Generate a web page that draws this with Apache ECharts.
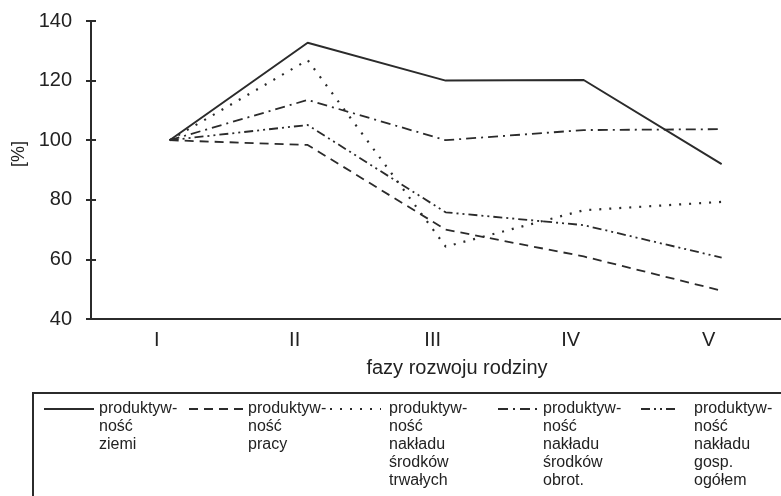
<!DOCTYPE html>
<html>
<head>
<meta charset="utf-8">
<script src="https://cdn.jsdelivr.net/npm/echarts@6/dist/echarts.min.js"></script>
<style>
    html, body {margin: 0; padding: 0; background: #fff;}
    #main {width: 781px; height: 496px;}
</style>
</head>
<body>
<div id="main"></div>
<script>
// dane
var phases = ['I', 'II', 'III', 'IV', 'V'];
var ziemi = [100, 132.7, 120, 120.2, 92];
var pracy = [100, 98.4, 70, 61, 49.5];
var trwale = [100, 126.9, 64.3, 76.5, 79.3];
var obrot = [100, 113.5, 100, 103.4, 103.7];
var ogolem = [100, 105.1, 75.8, 71.5, 60.6];
var yTicks = [40, 60, 80, 100, 120, 140];

var seriesNames = [
    'produktywność ziemi',
    'produktywność pracy',
    'produktywność nakładu środków trwałych',
    'produktywność nakładu środków obrot.',
    'produktywność nakładu gosp. ogółem'
];
var legendLines = [
    ['produktyw-', 'ność', 'ziemi'],
    ['produktyw-', 'ność', 'pracy'],
    ['produktyw-', 'ność', 'nakładu', 'środków', 'trwałych'],
    ['produktyw-', 'ność', 'nakładu', 'środków', 'obrot.'],
    ['produktyw-', 'ność', 'nakładu', 'gosp.', 'ogółem']
];

var ink = '#2b2b2b';
var font = 'Liberation Sans, Arial, sans-serif';

function toPoints(values) {
    return values.map(function (v, i) {
        return [i + 1, v];
    });
}

function line(name, values, type, width) {
    return {
        name: name,
        type: 'line',
        data: toPoints(values),
        symbol: 'none',
        animation: false,
        itemStyle: {color: ink},
        lineStyle: {color: ink, width: width, type: type}
    };
}

// legenda: osobny blok dla kazdej serii, ikona na wysokosci pierwszej linii
var legendLeft = [43, 188, 329, 497, 640];
var legendIcon = [50, 54, 51, 40, 38];
var legendPad = [0, 0, 3, 0, 10];
var rowH = 18;
var firstRowY = 409;

var legends = seriesNames.map(function (name, i) {
    var n = legendLines[i].length;
    var total = 2 * n - 1;
    return {
        data: [name],
        left: legendLeft[i],
        top: firstRowY - total * rowH / 2,
        padding: 0,
        itemWidth: legendIcon[i],
        itemHeight: 14,
        selectedMode: false,
        itemStyle: {opacity: 0},
        formatter: function (nm) {
            var lines = legendLines[seriesNames.indexOf(nm)];
            var pad = [];
            for (var k = 0; k < lines.length - 1; k++) pad.push('');
            return pad.concat(lines).join('\n');
        },
        textStyle: {
            fontFamily: font, fontSize: 16, color: '#222',
            lineHeight: rowH, padding: [0, 0, 0, legendPad[i]]
        }
    };
});

var chart = echarts.init(document.getElementById('main'));
var option = {
    backgroundColor: '#fff',
    animation: false,
    grid: {left: 91, right: 0, top: 21, bottom: 177},
    legend: legends,
    xAxis: {
        type: 'value',
        min: 0.43,
        max: 5.43,
        name: 'fazy rozwoju rodziny',
        nameLocation: 'middle',
        nameGap: 39,
        nameTextStyle: {fontFamily: font, fontSize: 20, color: '#222', padding: [0, 0, 0, 42]},
        axisLine: {lineStyle: {color: ink, width: 2}},
        axisTick: {show: false},
        splitLine: {show: false},
        axisLabel: {
            customValues: [1, 2, 3, 4, 5],
            formatter: function (v) {
                return phases[Math.round(v) - 1];
            },
            margin: 11,
            padding: [0, 26, 0, 0],
            fontFamily: font, fontSize: 20, color: '#222'
        }
    },
    yAxis: [{
        type: 'value',
        position: 'left',
        min: yTicks[0],
        max: yTicks[yTicks.length - 1],
        interval: yTicks[1] - yTicks[0],
        name: '[%]',
        nameLocation: 'middle',
        nameGap: 60,
        nameTextStyle: {fontFamily: font, fontSize: 18, color: '#222', padding: [0, 0, 0, 32]},
        axisLine: {show: true, lineStyle: {color: ink, width: 2}},
        axisTick: {show: true, length: 5, lineStyle: {color: ink, width: 2}},
        splitLine: {show: false},
        axisLabel: {margin: 19, fontFamily: font, fontSize: 20, color: '#222'}
    }, {
        // druga os tylko dla kresek po wewnetrznej stronie
        type: 'value',
        position: 'left',
        min: yTicks[0],
        max: yTicks[yTicks.length - 1],
        interval: yTicks[1] - yTicks[0],
        axisLine: {show: false},
        axisTick: {show: true, inside: true, length: 5, lineStyle: {color: ink, width: 2}},
        splitLine: {show: false},
        axisLabel: {show: false}
    }],
    graphic: [{
        type: 'rect',
        shape: {x: 33, y: 393, width: 780, height: 140},
        style: {fill: 'none', stroke: ink, lineWidth: 2}
    }],
    series: [
        line(seriesNames[0], ziemi, 'solid', 2),
        line(seriesNames[1], pracy, [9, 6], 1.8),
        line(seriesNames[2], trwale, [2, 8], 2.2),
        line(seriesNames[3], obrot, [10, 5, 2, 5], 1.8),
        line(seriesNames[4], ogolem, [9, 4, 2, 4, 2, 4], 1.8)
    ]
};
chart.setOption(option);
</script>
</body>
</html>
